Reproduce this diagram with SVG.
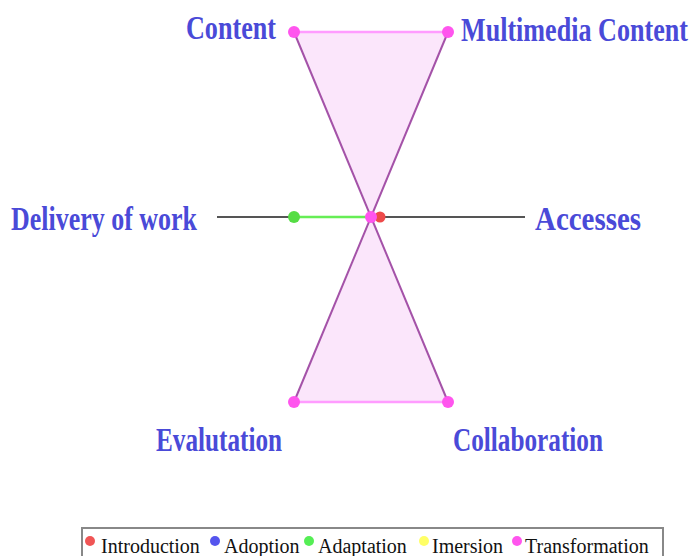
<svg xmlns="http://www.w3.org/2000/svg" width="691" height="556" viewBox="0 0 691 556">
<style>
.lbl{font-family:"Liberation Serif","Times New Roman",serif;font-weight:bold;font-size:26px;fill:#4a4ad8}
.leg{font-family:"Liberation Serif","Times New Roman",serif;font-size:20px;fill:#111}
.axis{stroke:#555;stroke-width:2;fill:none}
</style>
<rect width="691" height="556" fill="#fff"/>
<g id="connectors">
<line class="axis" x1="217" y1="217" x2="525" y2="217"/>
<polygon points="294,32 448,32 372,217" fill="#fbe6fb" stroke="none"/>
<polygon points="294,402 448,402 372,217" fill="#fbe6fb" stroke="none"/>
<line x1="294" y1="32" x2="448" y2="32" stroke="#ff9cff" stroke-width="2.5"/>
<line x1="294" y1="402" x2="448" y2="402" stroke="#ff9cff" stroke-width="2.5"/>
<line x1="294" y1="32" x2="448" y2="402" stroke="#a452a8" stroke-width="2"/>
<line x1="448" y1="32" x2="294" y2="402" stroke="#a452a8" stroke-width="2"/>
<line x1="294" y1="217" x2="372" y2="217" stroke="#66ee55" stroke-width="2.5"/>
</g>
<g id="points">
<circle cx="380" cy="217" r="5.5" fill="#ee4a4a"/>
<circle cx="294" cy="217" r="6" fill="#55dd44"/>
<circle cx="371" cy="217" r="6" fill="#ff55ee"/>
<circle cx="294" cy="32" r="6" fill="#ff55ee"/>
<circle cx="448" cy="32" r="6" fill="#ff55ee"/>
<circle cx="294" cy="402" r="6" fill="#ff55ee"/>
<circle cx="448" cy="402" r="6" fill="#ff55ee"/>
</g>
<g id="n-content"><text class="lbl" transform="translate(186,39) scale(1,1.32)" textLength="90" lengthAdjust="spacingAndGlyphs">Content</text></g>
<g id="n-multimedia"><text class="lbl" transform="translate(461,41) scale(1,1.32)" textLength="227" lengthAdjust="spacingAndGlyphs">Multimedia Content</text></g>
<g id="n-delivery"><text class="lbl" transform="translate(11,230) scale(1,1.32)" textLength="186" lengthAdjust="spacingAndGlyphs">Delivery of work</text></g>
<g id="n-accesses"><text class="lbl" transform="translate(535,230) scale(1,1.32)" textLength="106" lengthAdjust="spacingAndGlyphs">Accesses</text></g>
<g id="n-evaluation"><text class="lbl" transform="translate(156,451) scale(1,1.32)" textLength="126" lengthAdjust="spacingAndGlyphs">Evalutation</text></g>
<g id="n-collaboration"><text class="lbl" transform="translate(453,451) scale(1,1.32)" textLength="150" lengthAdjust="spacingAndGlyphs">Collaboration</text></g>
<g id="legend">
<rect x="82" y="528" width="581" height="32" fill="#fff" stroke="#888" stroke-width="2"/>
<circle cx="90" cy="541" r="5" fill="#f05555"/>
<text class="leg" x="101" y="553">Introduction</text>
<circle cx="215" cy="541" r="5" fill="#5555ee"/>
<text class="leg" x="224" y="553">Adoption</text>
<circle cx="309" cy="541" r="5" fill="#55ee55"/>
<text class="leg" x="318" y="553">Adaptation</text>
<circle cx="424" cy="541" r="5" fill="#ffff66"/>
<text class="leg" x="432" y="553">Imersion</text>
<circle cx="517" cy="541" r="5" fill="#ff55ee"/>
<text class="leg" x="525" y="553">Transformation</text>
</g>
</svg>
